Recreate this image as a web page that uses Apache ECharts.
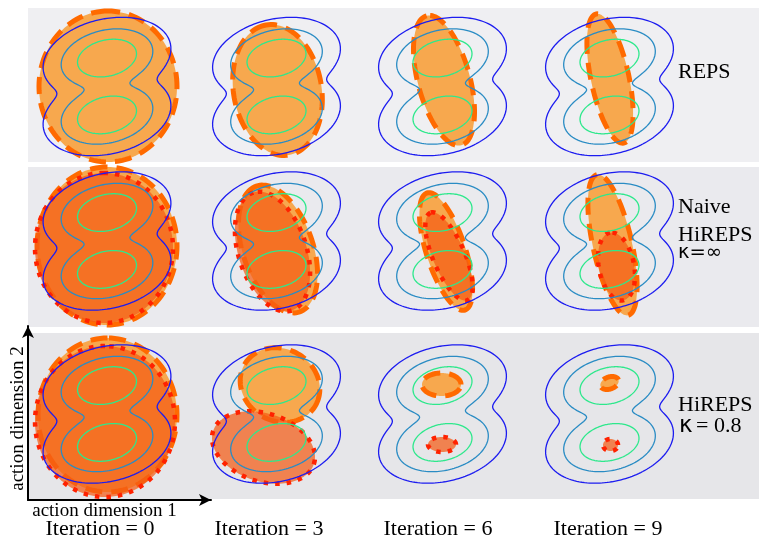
<!DOCTYPE html>
<html><head><meta charset="utf-8">
<script src="https://cdn.jsdelivr.net/npm/echarts@6/dist/echarts.min.js"></script>
<style>html,body{margin:0;padding:0;background:#fff}#c{width:759px;height:539px}</style>
</head><body><div id="c"></div>
<script>
// ---------------- DATA ----------------
const rowNames = ['REPS', 'Naive HiREPS', 'HiREPS κ=0.8'];
const iterations = ['Iteration = 0', 'Iteration = 3', 'Iteration = 6', 'Iteration = 9'];
const axisNames = ['action dimension 1', 'action dimension 2'];
// reward landscape: two tilted Gaussian bumps (action units)
const bumpMeans = [[0, 2.85], [0, -2.85]];
const bumpSigma = [2.0, 1.2];        // major, minor
const bumpAngle = 13;                // degrees
const contourLevels = [0.0051, 0.0663, 0.3247];
const contourColors = ['#1c1cf0', '#2a8cc4', '#2ee88c'];
// search distributions [cx, cy, semiA, semiB, angleDeg] for iterations 0,3,6,9
const repsDashed  = [[0.1,0,7.55,6.9,90],[0.1,-0.35,6.6,4.4,100],[0.15,0.6,6.7,2.6,105],[0.05,0.8,6.6,1.9,102]];
const naiveDashed = [[0,-0.5,7.9,7.0,90],[0.15,-0.8,6.65,3.5,109],[0.35,-1.05,6.15,1.95,108],[0.3,-0.4,7.2,1.95,102.5]];
const naiveDotted = [[-0.3,-0.7,7.5,6.9,90],[-0.4,-1.05,6.2,3.4,108],[0.65,-1.55,4.75,1.6,113],[0.7,-2.55,3.45,1.76,101]];
const hiDashed    = [[0.05,-0.1,7.7,6.95,90],[0.35,2.9,4.1,3.6,-30],[-0.1,2.95,1.95,1.15,0],[0,3.1,0.95,0.6,20]];
const hiDotted    = [[-0.2,-0.75,7.55,7.0,90],[-1.3,-3.35,5.3,3.4,-18],[-0.05,-3.05,1.4,0.75,0],[0.1,-3.1,0.75,0.6,0]];

// ---------------- LAYOUT ----------------
const colCenters = [107, 276.5, 442.5, 609.5];
const rowCenters = [86.5, 241, 414];
const rowBands = [[8, 162], [167, 327], [333, 499]];
const rowBg = ['#efeff2', '#eaeaee', '#e6e6e9'];

// ---------------- CONTOURS ----------------
function bump(x, y) {
  const a = bumpAngle * Math.PI / 180, c = Math.cos(a), s = Math.sin(a);
  let f = 0;
  for (const m of bumpMeans) {
    const dx = x - m[0], dy = y - m[1];
    const u = dx * c + dy * s, v = -dx * s + dy * c;
    f += Math.exp(-0.5 * (u * u / (bumpSigma[0] ** 2) + v * v / (bumpSigma[1] ** 2)));
  }
  return f;
}
function traceInward(level, N) {
  const pts = [];
  for (let k = 0; k <= N; k++) {
    const t = 2 * Math.PI * k / N, dx = Math.cos(t), dy = Math.sin(t);
    let r = 9, st = 0.05;
    while (r > 0 && bump(r * dx, r * dy) < level) r -= st;
    let lo = r, hi = r + st;
    for (let i = 0; i < 30; i++) { const m = (lo + hi) / 2; if (bump(m * dx, m * dy) >= level) lo = m; else hi = m; }
    pts.push([lo * dx, lo * dy]);
  }
  return pts;
}
function traceOutward(level, cx, cy, N) {
  const pts = [];
  for (let k = 0; k <= N; k++) {
    const t = 2 * Math.PI * k / N, dx = Math.cos(t), dy = Math.sin(t);
    let r = 0, st = 0.02;
    while (r < 9 && bump(cx + r * dx, cy + r * dy) >= level) r += st;
    let lo = r - st, hi = r;
    for (let i = 0; i < 30; i++) { const m = (lo + hi) / 2; if (bump(cx + m * dx, cy + m * dy) >= level) lo = m; else hi = m; }
    pts.push([cx + lo * dx, cy + lo * dy]);
  }
  return pts;
}
const contourPaths = [
  { pts: traceInward(contourLevels[0], 180), color: contourColors[0] },
  { pts: traceInward(contourLevels[1], 180), color: contourColors[1] },
  { pts: traceOutward(contourLevels[2], bumpMeans[0][0], bumpMeans[0][1], 120), color: contourColors[2] },
  { pts: traceOutward(contourLevels[2], bumpMeans[1][0], bumpMeans[1][1], 120), color: contourColors[2] }
];

// ---------------- SERIES ----------------
const dashedStyle = { fill: '#f7a84e', stroke: '#ff6a00', lineWidth: 5, lineDash: [17, 9] };
const dottedStyle = { fill: 'rgba(244,92,21,0.72)', stroke: '#ff2200', lineWidth: 4.5, lineDash: [4.5, 7] };

function ellipseSeries(gi, item, st, z) {
  return {
    type: 'custom', xAxisIndex: gi, yAxisIndex: gi, z: z, clip: false, silent: true,
    data: [item], encode: { x: 0, y: 1 },
    renderItem: function (params, api) {
      const cx = api.value(0), cy = api.value(1), a = api.value(2), b = api.value(3);
      const ang = api.value(4) * Math.PI / 180, c = Math.cos(ang), s = Math.sin(ang);
      const pts = [];
      const N = 120;
      for (let k = 0; k < N; k++) {
        const t = 2 * Math.PI * k / N, ex = a * Math.cos(t), ey = b * Math.sin(t);
        pts.push(api.coord([cx + ex * c - ey * s, cy + ex * s + ey * c]));
      }
      return { type: 'polygon', shape: { points: pts }, style: Object.assign({}, st) };
    }
  };
}
function contourSeries(gi) {
  return {
    type: 'custom', xAxisIndex: gi, yAxisIndex: gi, z: 5, clip: false, silent: true,
    data: contourPaths.map((p, i) => [0, 0, i]), encode: { x: 0, y: 1 },
    renderItem: function (params, api) {
      const p = contourPaths[api.value(2)];
      return { type: 'polyline', shape: { points: p.pts.map(q => api.coord(q)) },
        style: { fill: 'none', stroke: p.color, lineWidth: 1.3 } };
    }
  };
}

const grids = [], xAxes = [], yAxes = [], series = [];
const rowsDist = [[repsDashed, null], [naiveDashed, naiveDotted], [hiDashed, hiDotted]];
rowCenters.forEach((cy, r) => colCenters.forEach((cx, c) => {
  const gi = grids.length;
  grids.push({ left: cx - 80, top: cy - 80, width: 160, height: 160, show: false });
  xAxes.push({ gridIndex: gi, type: 'value', min: -8, max: 8, show: false });
  yAxes.push({ gridIndex: gi, type: 'value', min: -8, max: 8, show: false });
  series.push(ellipseSeries(gi, rowsDist[r][0][c], dashedStyle, 2));
  if (rowsDist[r][1]) series.push(ellipseSeries(gi, rowsDist[r][1][c], dottedStyle, 3));
  series.push(contourSeries(gi));
}));
// axis arrows grid
const ag = grids.length;
grids.push({ left: 28, top: 326, width: 183, height: 174, show: false });
const arrowLine = { show: true, symbol: ['none', 'arrow'], symbolSize: [9, 12], lineStyle: { color: '#000', width: 2 } };
xAxes.push({ gridIndex: ag, type: 'value', min: 0, max: 1, axisLine: arrowLine, axisTick: { show: false }, axisLabel: { show: false }, splitLine: { show: false } });
yAxes.push({ gridIndex: ag, type: 'value', min: 0, max: 1, axisLine: arrowLine, axisTick: { show: false }, axisLabel: { show: false }, splitLine: { show: false } });

// ---------------- TEXT / BACKGROUND ----------------
const serif = '"Liberation Serif", "Times New Roman", serif';
const sans = '"DejaVu Sans", sans-serif';
function txt(text, x, y, size, align, family, rot) {
  const o = { type: 'text', x: x, y: y, z: 50, silent: true,
    style: { text: text, font: size + 'px ' + (family || serif), fill: '#000',
      textAlign: align || 'left', textVerticalAlign: 'middle', align: align || 'left', verticalAlign: 'middle' } };
  if (rot) o.rotation = rot;
  return o;
}
const graphic = [];
rowBands.forEach((b, i) => graphic.push({ type: 'rect', z: -100, silent: true,
  shape: { x: 28, y: b[0], width: 731, height: b[1] - b[0] }, style: { fill: rowBg[i] } }));
graphic.push(txt('REPS', 678, 72.5, 22));
graphic.push(txt('Naive', 678, 207, 22));
graphic.push(txt('HiREPS', 678, 235, 22));
graphic.push(txt('κ=∞', 678, 253, 19.5, 'left', sans));
graphic.push(txt('HiREPS', 678, 405, 22));
graphic.push(txt('κ', 679, 426, 23, 'left', sans));
graphic.push(txt('= 0.8', 696, 426, 22));
iterations.forEach((t, i) => graphic.push(txt(t, [100, 269, 438, 608][i], 529, 22, 'center')));
graphic.push(txt(axisNames[0], 104.5, 511, 19, 'center'));
graphic.push(txt(axisNames[1], 18, 418.5, 19, 'center', serif, Math.PI / 2));

const chart = echarts.init(document.getElementById('c'), null, { renderer: 'canvas' });
chart.setOption({
  animation: false,
  backgroundColor: '#ffffff',
  grid: grids, xAxis: xAxes, yAxis: yAxes, series: series, graphic: graphic
});
</script>
</body></html>
